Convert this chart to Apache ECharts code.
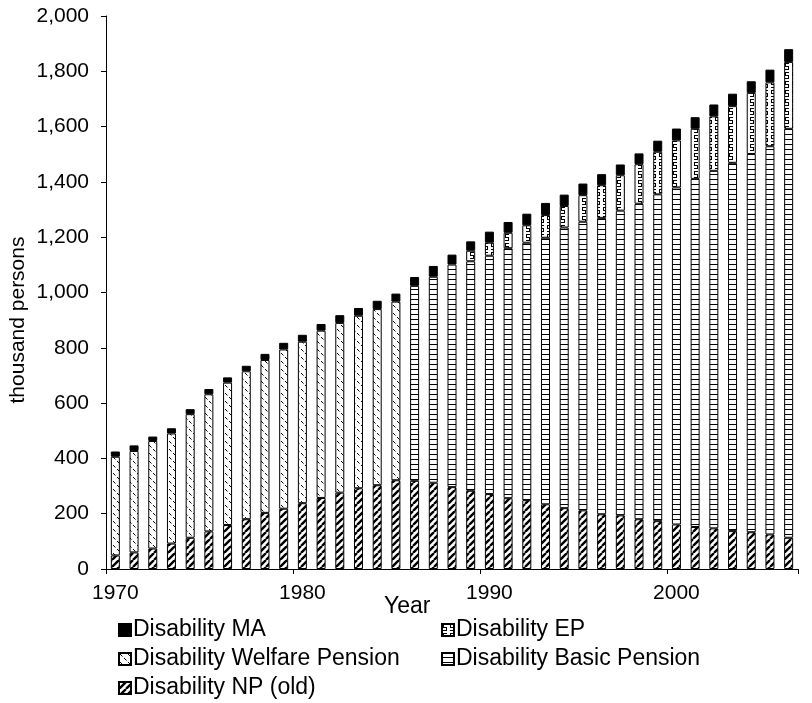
<!DOCTYPE html>
<html>
<head>
<meta charset="utf-8">
<script src="https://cdn.jsdelivr.net/npm/echarts@6/dist/echarts.min.js"></script>
<style>
html,body{margin:0;padding:0;background:#fff;}
#chart{width:812px;height:703px;}
</style>
</head>
<body>
<div id="chart"></div>
<script>
const years = ['1970','1971','1972','1973','1974','1975','1976','1977','1978','1979',
  '1980','1981','1982','1983','1984','1985','1986','1987','1988','1989',
  '1990','1991','1992','1993','1994','1995','1996','1997','1998','1999',
  '2000','2001','2002','2003','2004','2005','2006'];

// thousand persons
const npOld = [49,60,74,92,113,136,159,180,203,218,
  238,257,276,292,303,321,319,312,296,283,
  271,256,249,234,220,212,198,194,180,173,
  161,152,147,137,133,125,113];
const basicPension = [0,0,0,0,0,0,0,0,0,0,
  0,0,0,0,0,0,705,745,805,830,
  862,904,931,964,1015,1044,1072,1102,1141,1182,
  1219,1259,1293,1332,1368,1404,1479];
const welfarePension = [357,367,389,398,447,496,515,535,553,576,
  584,605,614,624,637,646,0,0,0,0,
  0,0,0,0,0,0,0,0,0,0,
  0,0,0,0,0,0,0];
const disabilityEP = [0,0,0,0,0,0,0,0,0,0,
  0,0,0,0,0,0,0,0,0,38,
  47,56,63,82,78,96,118,128,143,154,
  170,181,197,205,221,231,242];
const disabilityMA = [19,20,16,19,18,19,19,20,22,24,
  25,24,28,28,30,29,32,39,36,34,
  40,39,42,44,41,42,40,39,39,40,
  43,42,43,45,42,46,46];

const yTicks = {min:0, max:2000, interval:200};

function makePattern(w, h, draw) {
  const c = document.createElement('canvas');
  c.width = w; c.height = h;
  const g = c.getContext('2d');
  g.fillStyle = '#fff'; g.fillRect(0, 0, w, h);
  g.fillStyle = '#000'; g.strokeStyle = '#000';
  draw(g, w, h);
  return {image: c, repeat: 'repeat'};
}
const patNP = makePattern(7, 7, (g) => {
  g.lineWidth = 2.4;
  g.beginPath();
  [-7, 0, 7].forEach(o => { g.moveTo(o, 7); g.lineTo(o + 7, 0); });
  g.stroke();
});
const patBasic = makePattern(5, 5, (g) => { g.fillRect(0, 4, 5, 1); });
const patWelfare = makePattern(8, 8, (g) => {
  g.lineWidth = 1;
  g.beginPath();
  g.moveTo(1, 1); g.lineTo(3.5, 3.5);
  g.moveTo(5, 5); g.lineTo(7.5, 7.5);
  g.stroke();
});
const patEP = makePattern(7, 9, (g) => {
  g.fillRect(1, 0, 4, 1);
  g.fillRect(1, 0, 1, 4);
  g.fillRect(1, 3, 4, 1);
  g.fillRect(4, 3, 1, 4);
  g.fillRect(1, 6, 4, 1);
});

const FONT = '"Liberation Sans", Arial, sans-serif';
const LEGEND_FS = 23;
const toData = arr => arr.map(v => v === 0 ? '-' : v);

function mkSeries(name, arr, color) {
  return {
    name: name, type: 'bar', stack: 'total', barWidth: 9,
    data: toData(arr),
    itemStyle: {color: color, borderColor: '#000', borderWidth: 1},
    emphasis: {disabled: true},
    animation: false
  };
}
function mkLegend(name, left, centerY) {
  return {
    data: [name], orient: 'horizontal', left: left, top: centerY - LEGEND_FS / 2,
    padding: 0, itemWidth: 12, itemHeight: 12, icon: 'rect',
    textStyle: {color: '#000', fontSize: LEGEND_FS, fontFamily: FONT, padding: [0, 0, 0, -3]},
    selectedMode: false
  };
}

const chart = echarts.init(document.getElementById('chart'), null, {renderer: 'canvas'});
chart.setOption({
  animation: false,
  backgroundColor: '#fff',
  grid: {left: 106, right: 14, top: 16, bottom: 134, containLabel: false},
  xAxis: {
    type: 'category', data: years, boundaryGap: true,
    axisLine: {lineStyle: {color: '#000', width: 1}},
    axisTick: {show: true, interval: 9, length: 5, lineStyle: {color: '#000'}},
    axisLabel: {interval: 9, margin: 14, color: '#000', fontSize: 21, fontFamily: FONT},
    splitLine: {show: false}
  },
  yAxis: {
    type: 'value', min: yTicks.min, max: yTicks.max, interval: yTicks.interval,
    axisLine: {show: true, lineStyle: {color: '#000', width: 1}},
    axisTick: {show: true, length: 5, lineStyle: {color: '#000'}},
    axisLabel: {margin: 17, color: '#000', fontSize: 21, fontFamily: FONT,
      formatter: v => v.toLocaleString('en-US')},
    splitLine: {show: false}
  },
  legend: [
    mkLegend('Disability MA', 118, 630),
    mkLegend('Disability EP', 441, 630),
    mkLegend('Disability Welfare Pension', 118, 659),
    mkLegend('Disability Basic Pension', 441, 659),
    mkLegend('Disability NP (old)', 118, 688)
  ],
  graphic: [
    {type: 'text', left: 384, top: 595,
      style: {text: 'Year', fill: '#000', font: '23px ' + FONT}},
    {type: 'text', x: 18, y: 320, rotation: Math.PI / 2,
      style: {text: 'thousand persons', fill: '#000', font: '21px ' + FONT,
        textAlign: 'center', textVerticalAlign: 'middle'}}
  ],
  series: [
    mkSeries('Disability NP (old)', npOld, patNP),
    mkSeries('Disability Basic Pension', basicPension, patBasic),
    mkSeries('Disability Welfare Pension', welfarePension, patWelfare),
    mkSeries('Disability EP', disabilityEP, patEP),
    mkSeries('Disability MA', disabilityMA, '#000')
  ]
});
</script>
</body>
</html>
